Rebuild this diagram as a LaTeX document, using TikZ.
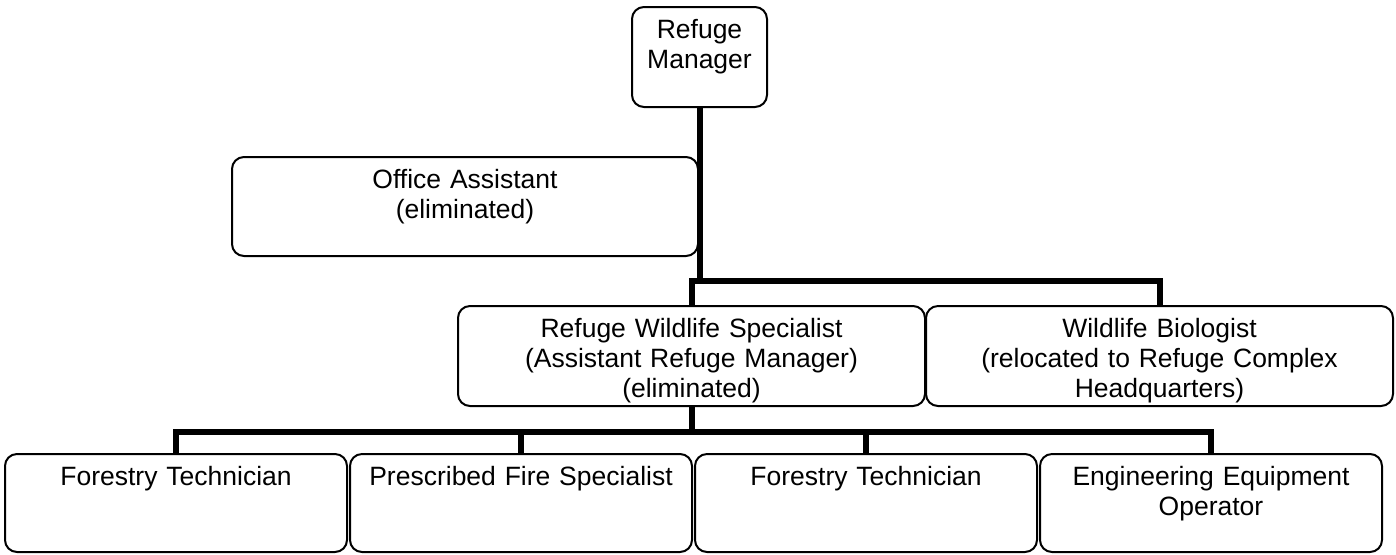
\documentclass[tikz,border=0pt]{standalone}
\usepackage{fontspec}
\setmainfont{Liberation Sans}
\usetikzlibrary{positioning}

\begin{document}
\begin{tikzpicture}[x=0.5pt,y=-0.5pt,
		Post/.style={rectangle,draw,line width=1pt,rounded corners=6pt,align=center,
			inner xsep=0pt,inner ysep=0pt,outer sep=0pt,text height=15.5pt,text depth=34.5pt,
			font=\fontsize{13.25}{15}\selectfont},
		Link/.style={line width=3pt}]
	\useasboundingbox (0,0) rectangle (1396,554);
	% nodes
	\node[Post,text width=67.5pt,anchor=north] (Manager) at (699.5,7) {Refuge\\Manager};
	\node[Post,text width=233pt,text depth=34pt,anchor=north] (Office) at (465,157) {Office Assistant\\(eliminated)};
	\node[Post,text width=233.5pt,anchor=north] (Specialist) at (691.5,306) {Refuge Wildlife Specialist\\(Assistant Refuge Manager)\\(eliminated)};
	\node[Post,text width=233.5pt] (Biologist) [right=0.5pt of Specialist] {Wildlife Biologist\\(relocated to Refuge Complex\\Headquarters)};
	\node[Post,text width=171pt,text depth=33.5pt,anchor=north west] (Forestry1) at (5,454) {Forestry Technician};
	\node[Post,text width=171pt,text depth=33.5pt] (Fire) [right=1.5pt of Forestry1] {Prescribed Fire Specialist};
	\node[Post,text width=171pt,text depth=33.5pt] (Forestry2) [right=1.5pt of Fire] {Forestry Technician};
	\node[Post,text width=171pt,text depth=33.5pt] (Engineer) [right=1.5pt of Forestry2] {Engineering Equipment\\Operator};
	\coordinate (Bar1) at (0,281);
	\coordinate (Bar2) at (0,432);
	% connections
	\draw[Link] (Manager.south) -- (Manager.south |- Bar1);
	\draw[Link] (Specialist.north) |- (Biologist.north |- Bar1) -- (Biologist.north);
	\draw[Link] (Specialist.south) -- (Specialist.south |- Bar2);
	\draw[Link] (Forestry1.north) |- (Engineer.north |- Bar2) -- (Engineer.north);
	\draw[Link] (Fire.north) -- (Fire.north |- Bar2);
	\draw[Link] (Forestry2.north) -- (Forestry2.north |- Bar2);
\end{tikzpicture}
\end{document}
